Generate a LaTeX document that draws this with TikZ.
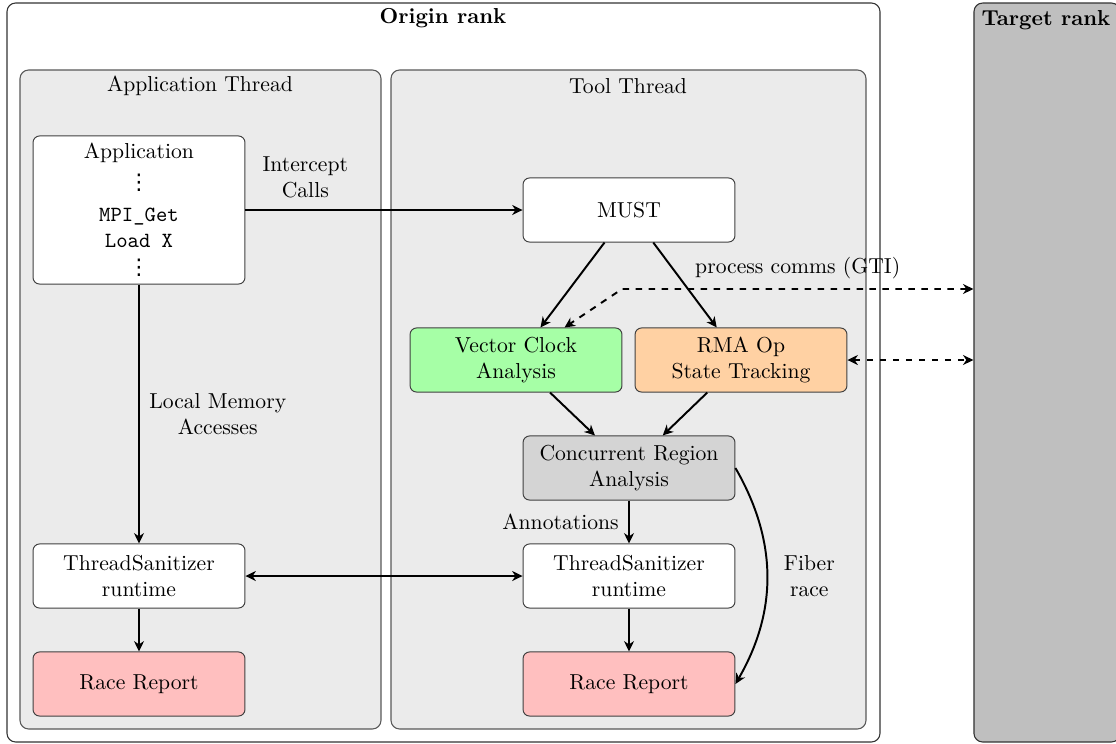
\documentclass[tikz,border=0pt]{standalone}
\usepackage{fontspec}
\usetikzlibrary{arrows.meta}
\newfontfamily\dotsfont{DejaVu Sans}
\newcommand{\colondots}{{\dotsfont\fontsize{10pt}{12pt}\selectfont ⋮}}
\begin{document}
\begin{tikzpicture}[x=0.462pt,y=-0.462pt,
  >={Stealth[length=4.8pt,width=4.6pt,inset=1.5pt]},
  rankbox/.style={draw=black!80, line width=0.5pt, rounded corners=4pt},
  threadbox/.style={draw=black!65, fill=black!8, line width=0.5pt, rounded corners=4pt},
  stage/.style={draw=black!75, line width=0.45pt, rounded corners=3pt,
    minimum width=97.9pt, minimum height=29.6pt, align=center, inner sep=1pt},
  plain/.style={inner sep=0pt},
  flow/.style={line width=0.9pt, ->},
  comm/.style={line width=0.9pt, dashed, <->},
]
\useasboundingbox (0,0) rectangle (1116,743);

% ranks
\draw[rankbox, fill=white] (7,3) rectangle (880,742);
\node[plain, font=\bfseries] (origintitle) at (443,18) {Origin rank};
\node[rankbox, fill=black!25, minimum width=67.5pt, minimum height=341.4pt, inner sep=0pt]
  (target) at (1047,372.5) {};
\node[plain, font=\bfseries] (targettitle) at (1046,20) {Target rank};

% threads
\draw[threadbox] (20,70) rectangle (381,729);
\node[plain] (apptitle) at (200,86) {Application Thread};
\draw[threadbox] (391,70) rectangle (866,729);
\node[plain] (tooltitle) at (628,86) {Tool Thread};

% application thread
\node[stage, fill=white, minimum height=68.4pt] (app) at (139,210) {};
\node[plain] (appname) at (139,153) {Application};
\node[plain] (dotsa) at (139,183) {\colondots};
\node[plain] (mpiget) at (139,217) {\texttt{MPI\_Get}};
\node[plain] (loadx) at (139,241) {\texttt{Load X}};
\node[plain] (dotsb) at (139,268) {\colondots};
\node[stage, fill=white] (tsanapp) at (139,576) {ThreadSanitizer\\runtime};
\node[stage, fill=red!25] (raceapp) at (139,684) {Race Report};

% tool thread
\node[stage, fill=white] (must) at (629,210) {MUST};
\node[stage, fill=green!35] (vc) at (516,360) {Vector Clock\\Analysis};
\node[stage, fill={rgb,255:red,255;green,209;blue,163}] (rma) at (741,360) {RMA Op\\State Tracking};
\node[stage, fill=black!17] (cra) at (629,468) {Concurrent Region\\Analysis};
\node[stage, fill=white] (tsantool) at (629,576) {ThreadSanitizer\\runtime};
\node[stage, fill=red!25] (racetool) at (629,684) {Race Report};

% connectors
\draw[flow] (app) -- node[pos=0.216, above=2pt, align=center] {Intercept\\Calls} (must);
\draw[flow] (app) -- node[midway, right=1pt, align=center] {Local Memory\\Accesses} (tsanapp);
\draw[flow] (tsanapp) -- (raceapp);
\draw[line width=0.9pt, <->] (tsanapp) -- (tsantool);
\draw[flow] (must) -- (vc);
\draw[flow] (must) -- (rma);
\draw[flow] (vc) -- (cra);
\draw[flow] (rma) -- (cra);
\draw[flow] (cra) -- node[midway, left=1pt] {Annotations} (tsantool);
\draw[flow] (tsantool) -- (racetool);
\draw[flow] (cra.east) to[bend left=30] node[midway, right=4pt, align=center] {Fiber\\race} (racetool.east);

% inter-rank communication
\coordinate (gtibend) at (622,289);
\draw[comm] (gtibend -| target.west) -- node[midway, above=1pt] {process comms (GTI)} (gtibend) -- (vc);
\draw[comm] (rma.east) -- (rma.east -| target.west);
\end{tikzpicture}
\end{document}
